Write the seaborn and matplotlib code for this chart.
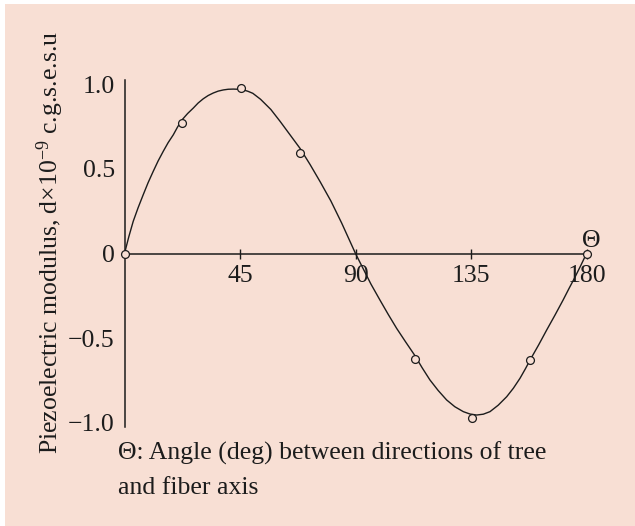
import matplotlib
matplotlib.use("Agg")
import matplotlib.pyplot as plt
from matplotlib.patches import Rectangle
import seaborn as sns
import pandas as pd

# ---- data ----
point_angle = [0, 22.5, 45.5, 68.5, 113, 135.5, 158, 180]
point_value = [0, 0.77, 0.975, 0.59, -0.62, -0.972, -0.63, 0]

curve_angle = [0, 1.7, 3.4, 5.3, 7.3, 9.2, 11.2, 13.1, 15.1, 17.0, 19.0, 20.7, 22.5, 24.6,
               26.8, 28.7, 30.7, 32.6, 34.6, 36.5, 38.5, 40.4, 42.4, 44.3, 46.3, 48.1,
               50, 53, 57, 60.6, 64.5, 68.4, 72.3, 76.2, 80.4, 84.6, 87.3,
               90, 93, 96, 99.5, 102.7, 106, 109.5, 113, 116, 119, 122.2, 125.5, 128.7,
               132, 134.6, 137.2, 139.8, 142.4, 145.6, 148.9, 151.5, 154.1, 156.2,
               158.4, 161.4, 164.5, 167.7, 170.9, 173.2, 175.5, 177.8, 180]
curve_value = [0, 0.10, 0.19, 0.27, 0.347, 0.418, 0.485, 0.546, 0.603, 0.654, 0.70, 0.747,
               0.79, 0.826, 0.858, 0.888, 0.913, 0.932, 0.947, 0.958, 0.965, 0.969, 0.970,
               0.969, 0.965, 0.957, 0.945, 0.91, 0.85, 0.78, 0.70, 0.62, 0.525, 0.424, 0.31,
               0.18, 0.09, 0, -0.09, -0.18, -0.274, -0.358, -0.441, -0.521, -0.599, -0.675,
               -0.746, -0.808, -0.864, -0.904, -0.933, -0.947, -0.953, -0.948, -0.933, -0.895,
               -0.845, -0.795, -0.736, -0.68, -0.618, -0.538, -0.451, -0.364, -0.274, -0.206,
               -0.14, -0.07, 0]

x_ticks = [45, 90, 135, 180]
x_tick_labels = ["45", "90", "135", "180"]
y_ticks = [1.0, 0.5, 0, -0.5, -1.0]
y_tick_labels = ["1.0", "0.5", "0", "\u22120.5", "\u22121.0"]

y_label = "Piezoelectric modulus, d\u00d710$^{-9}$ c.g.s.e.s.u"
note_line1 = "\u0398: Angle (deg) between directions of tree"
note_line2 = "and fiber axis"
axis_symbol = "\u0398"

# ---- style ----
sns.set_theme(style="white")
plt.rcParams["font.family"] = ["Liberation Serif", "DejaVu Serif"]
plt.rcParams["mathtext.fontset"] = "custom"
plt.rcParams["mathtext.rm"] = "Liberation Serif"
plt.rcParams["mathtext.it"] = "Liberation Serif:italic"

BG = "#f8dfd4"
INK = "#1c1c1c"
FS = 18.5

W, H = 635, 526
fig = plt.figure(figsize=(W / 100, H / 100), dpi=100, facecolor="white")
fig.patches.append(Rectangle((5 / W, 0), 1, 1 - 4 / H, transform=fig.transFigure,
                             facecolor=BG, edgecolor="none", zorder=-10))

left_px, right_px, top_px, bot_px = 124.5, 586.5, 80, 427
ax = fig.add_axes([left_px / W, 1 - bot_px / H, (right_px - left_px) / W, (bot_px - top_px) / H])
ax.set_facecolor("none")

curve_df = pd.DataFrame({"angle": curve_angle, "value": curve_value})
pts_df = pd.DataFrame({"angle": point_angle, "value": point_value})

sns.lineplot(data=curve_df, x="angle", y="value", ax=ax, color=INK, lw=1.0,
             sort=False, estimator=None, clip_on=False)
sns.scatterplot(data=pts_df, x="angle", y="value", ax=ax, s=32, marker="o",
                facecolor=BG, edgecolor=INK, linewidth=0.9, clip_on=False, zorder=5)

ax.set_xlim(0, 180)
ax.set_ylim(-1.0236, 1.0236)

for s in ["top", "right"]:
    ax.spines[s].set_visible(False)
ax.spines["left"].set_color(INK)
ax.spines["left"].set_linewidth(1.1)
ax.spines["bottom"].set_position(("data", 0))
ax.spines["bottom"].set_bounds(0, 180)
ax.spines["bottom"].set_color(INK)
ax.spines["bottom"].set_linewidth(1.1)

ax.set_xticks(x_ticks)
ax.set_xticklabels(x_tick_labels, fontsize=FS, color=INK)
ax.set_yticks(y_ticks)
ax.set_yticklabels(y_tick_labels, fontsize=FS, color=INK)
ax.tick_params(axis="x", direction="inout", length=7, width=1.0, color=INK, pad=5, bottom=True)
ax.tick_params(axis="y", length=0, pad=7, left=True)
ax.set_xlabel("")
ax.set_ylabel("")

fig.text(50 / W, 1 - 242 / H, y_label, rotation=90, ha="center", va="center",
         fontsize=FS, color=INK)
fig.text(118 / W, 1 - 460 / H, note_line1, ha="left", va="baseline", fontsize=FS, color=INK)
fig.text(118 / W, 1 - 494 / H, note_line2, ha="left", va="baseline", fontsize=FS, color=INK)
fig.text(591 / W, 1 - 241 / H, axis_symbol, ha="center", va="center", fontsize=FS, color=INK)

fig.savefig("out.png", dpi=100, facecolor=fig.get_facecolor())
